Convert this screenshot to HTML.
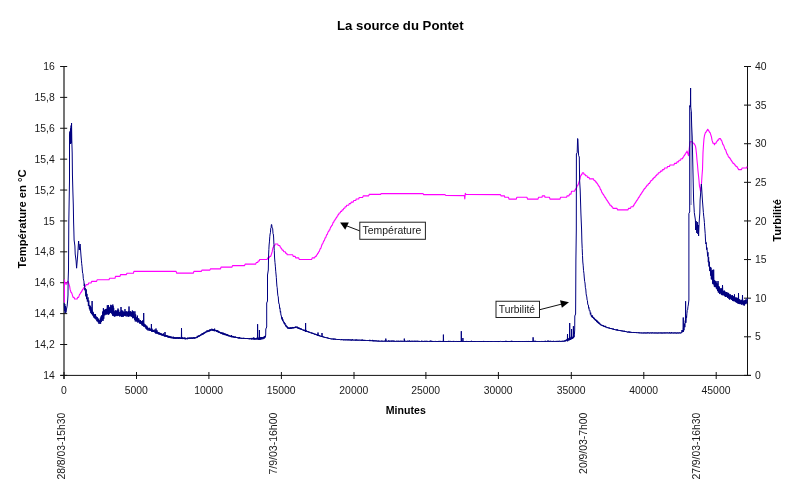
<!DOCTYPE html>
<html lang="fr"><head><meta charset="utf-8"><title>La source du Pontet</title>
<style>html,body{margin:0;padding:0;background:#fff;overflow:hidden}svg{display:block}</style></head>
<body>
<svg width="800" height="498" viewBox="0 0 800 498" font-family="Liberation Sans, sans-serif" font-size="10.4" fill="#1a1a1a">
<rect width="800" height="498" fill="#fff"/>
<text x="400.3" y="30.4" font-size="13" font-weight="bold" text-anchor="middle" fill="#000" textLength="126.5" lengthAdjust="spacingAndGlyphs">La source du Pontet</text>
<text x="54.8" y="378.9" text-anchor="end">14</text>
<text x="54.8" y="348.1" text-anchor="end">14,2</text>
<text x="54.8" y="317.2" text-anchor="end">14,4</text>
<text x="54.8" y="286.3" text-anchor="end">14,6</text>
<text x="54.8" y="255.4" text-anchor="end">14,8</text>
<text x="54.8" y="224.5" text-anchor="end">15</text>
<text x="54.8" y="193.6" text-anchor="end">15,2</text>
<text x="54.8" y="162.7" text-anchor="end">15,4</text>
<text x="54.8" y="131.8" text-anchor="end">15,6</text>
<text x="54.8" y="100.9" text-anchor="end">15,8</text>
<text x="54.8" y="70.0" text-anchor="end">16</text>
<text x="755" y="378.9">0</text>
<text x="755" y="340.3">5</text>
<text x="755" y="301.7">10</text>
<text x="755" y="263.1">15</text>
<text x="755" y="224.5">20</text>
<text x="755" y="185.9">25</text>
<text x="755" y="147.3">30</text>
<text x="755" y="108.7">35</text>
<text x="755" y="70.0">40</text>
<text x="63.8" y="394.45" text-anchor="middle">0</text>
<text x="136.3" y="394.45" text-anchor="middle">5000</text>
<text x="208.7" y="394.45" text-anchor="middle">10000</text>
<text x="281.2" y="394.45" text-anchor="middle">15000</text>
<text x="353.8" y="394.45" text-anchor="middle">20000</text>
<text x="425.7" y="394.45" text-anchor="middle">25000</text>
<text x="498.2" y="394.45" text-anchor="middle">30000</text>
<text x="571.1" y="394.45" text-anchor="middle">35000</text>
<text x="643.6" y="394.45" text-anchor="middle">40000</text>
<text x="716.0" y="394.45" text-anchor="middle">45000</text>
<text x="405.8" y="413.7" font-weight="bold" font-size="10.6" text-anchor="middle" fill="#000" textLength="40" lengthAdjust="spacingAndGlyphs">Minutes</text>
<text transform="translate(26,219) rotate(-90)" font-weight="bold" font-size="10.8" text-anchor="middle" fill="#000" textLength="99.2" lengthAdjust="spacingAndGlyphs">Température en °C</text>
<text transform="translate(781.2,220.4) rotate(-90)" font-weight="bold" font-size="10.8" text-anchor="middle" fill="#000" textLength="42.6" lengthAdjust="spacingAndGlyphs">Turbilité</text>
<text transform="translate(65.3,412.6) rotate(-90)" text-anchor="end" textLength="67" lengthAdjust="spacingAndGlyphs">28/8/03-15h30</text>
<text transform="translate(277,412.6) rotate(-90)" text-anchor="end" textLength="62" lengthAdjust="spacingAndGlyphs">7/9/03-16h00</text>
<text transform="translate(587.2,412.6) rotate(-90)" text-anchor="end" textLength="61.3" lengthAdjust="spacingAndGlyphs">20/9/03-7h00</text>
<text transform="translate(700.4,412.6) rotate(-90)" text-anchor="end" textLength="67" lengthAdjust="spacingAndGlyphs">27/9/03-16h30</text>
<path d="M64,66.5V378.9" stroke="#111" stroke-width="1.15" fill="none"/>
<path d="M60.5,375.4H751.0M747.5,66.5V375.4M60.1,375.40H67.2M60.1,344.51H67.2M60.1,313.62H67.2M60.1,282.73H67.2M60.1,251.84H67.2M60.1,220.95H67.2M60.1,190.06H67.2M60.1,159.17H67.2M60.1,128.28H67.2M60.1,97.39H67.2M60.1,66.50H67.2M744,375.40H751M744,336.79H751M744,298.17H751M744,259.56H751M744,220.95H751M744,182.34H751M744,143.72H751M744,105.11H751M744,66.50H751M64.00,372V379M136.50,372V379M208.90,372V379M281.40,372V379M354.00,372V379M425.90,372V379M498.40,372V379M571.30,372V379M643.80,372V379M716.20,372V379" stroke="#111" stroke-width="1" fill="none"/>
<path d="M64.4,302.50 L64.5,279.80 L64.6,281.40 L65.1,283.00 L65.6,283.00 L66.1,284.60 L66.6,283.00 L67.1,283.00 L67.6,281.40 L68.1,281.40 L68.6,283.00 L69.1,284.60 L69.6,286.20 L70.1,289.40 L70.6,291.00 L71.1,292.60 L71.6,292.60 L72.1,294.20 L72.6,295.80 L73.1,297.40 L74.1,297.40 L74.6,299.00 L77.1,299.00 L77.6,297.40 L78.6,297.40 L79.1,295.80 L79.6,294.20 L80.1,294.20 L80.6,292.60 L81.1,292.60 L81.6,291.00 L82.1,291.00 L82.6,289.40 L83.1,289.40 L83.6,287.80 L84.1,287.80 L84.6,286.20 L85.6,286.20 L86.1,284.60 L88.1,284.60 L88.6,283.00 L91.1,283.00 L91.6,281.40 L96.6,281.40 L97.1,279.80 L99.6,279.80 L100.0,279.80 L109.0,279.80 L109.5,278.30 L115.0,278.30 L115.5,276.40 L120.0,276.40 L120.5,274.60 L126.4,274.60 L126.9,273.30 L133.4,273.30 L133.9,271.40 L176.1,271.40 L176.6,273.10 L193.4,273.10 L193.9,271.40 L201.4,271.40 L201.9,270.10 L209.9,270.10 L210.4,268.90 L220.5,268.90 L221.0,267.10 L232.0,267.10 L232.5,265.60 L244.6,265.60 L245.1,264.10 L255.2,264.10 L255.2,264.10 L255.7,264.10 L256.2,262.55 L257.7,262.55 L258.2,261.00 L259.2,261.00 L259.7,259.45 L267.2,259.45 L267.7,257.90 L269.2,257.90 L269.7,256.35 L270.7,256.35 L271.2,254.80 L271.7,253.25 L272.2,251.70 L272.7,248.60 L273.2,247.05 L273.7,247.05 L274.2,245.50 L274.7,245.50 L275.2,243.95 L277.7,243.95 L278.2,245.50 L279.7,245.50 L280.2,247.05 L280.7,247.05 L281.2,248.60 L281.7,248.60 L282.2,250.15 L283.2,250.15 L283.7,251.70 L285.2,251.70 L285.7,253.25 L286.7,253.25 L287.2,254.80 L292.7,254.80 L293.2,256.35 L295.2,256.35 L295.7,257.90 L298.7,257.90 L299.2,259.45 L311.7,259.45 L312.2,257.90 L314.7,257.90 L315.2,256.35 L316.2,256.35 L316.7,254.80 L317.2,254.80 L317.7,253.25 L318.2,253.25 L318.7,251.70 L319.2,251.70 L319.7,250.15 L320.2,248.60 L320.7,248.60 L321.2,247.05 L321.7,245.50 L322.2,243.95 L322.7,243.95 L323.2,242.40 L323.7,240.85 L324.2,240.85 L324.7,239.30 L325.2,237.75 L325.7,237.75 L326.2,236.20 L326.7,234.65 L327.2,234.65 L327.7,233.10 L328.2,231.55 L328.7,231.55 L329.2,230.00 L329.7,230.00 L330.2,228.45 L330.7,226.90 L331.2,226.90 L331.7,225.35 L332.2,225.35 L332.7,223.80 L333.2,222.25 L333.7,222.25 L334.2,220.70 L334.7,220.70 L335.2,219.15 L335.7,219.15 L336.2,217.60 L336.7,217.60 L337.2,216.05 L337.7,216.05 L338.2,214.50 L338.7,214.50 L339.2,212.95 L340.2,212.95 L340.7,211.40 L341.7,211.40 L342.2,209.85 L343.2,209.85 L343.7,208.30 L344.7,208.30 L345.2,206.75 L346.2,206.75 L346.7,205.20 L348.7,205.20 L349.2,203.65 L350.7,203.65 L351.2,202.10 L353.2,202.10 L353.7,200.55 L355.7,200.55 L356.2,199.00 L358.7,199.00 L359.2,197.45 L362.7,197.45 L363.2,195.90 L368.7,195.90 L369.2,194.35 L380.7,194.35 L381.0,193.60 L423.0,193.60 L423.5,194.60 L445.0,194.60 L445.8,195.50 L464.4,195.60 L464.8,199.00 L465.3,193.20 L466.0,194.50 L500.5,194.60 L501.0,195.90 L504.5,195.90 L504.8,197.30 L508.5,197.30 L509.0,199.10 L516.3,199.10 L516.8,197.30 L527.0,197.30 L527.5,199.10 L538.0,199.10 L538.5,197.30 L542.0,197.30 L542.3,195.90 L544.7,195.90 L545.0,197.30 L549.5,197.30 L550.0,199.10 L560.0,199.10 L560.5,197.30 L566.6,197.30 L567.0,195.90 L569.0,195.90 L569.5,194.10 L571.0,194.10 L571.5,191.30 L574.5,191.30 L575.0,190.00 L575.0,189.75 L575.5,189.75 L576.0,188.20 L576.5,188.20 L577.0,186.65 L577.5,185.10 L578.0,185.10 L578.5,183.55 L579.0,182.00 L579.5,180.45 L580.0,178.90 L580.5,175.80 L581.0,175.80 L581.5,174.25 L582.0,174.25 L582.5,172.70 L583.5,172.70 L584.0,174.25 L585.0,174.25 L585.5,175.80 L587.0,175.80 L587.5,177.35 L589.0,177.35 L589.5,178.90 L593.5,178.90 L594.0,180.45 L595.0,180.45 L595.5,182.00 L596.5,182.00 L597.0,183.55 L597.5,183.55 L598.0,185.10 L598.5,185.10 L599.0,186.65 L599.5,186.65 L600.0,188.20 L600.5,189.75 L601.0,189.75 L601.5,191.30 L602.0,192.85 L602.5,192.85 L603.0,194.40 L603.5,194.40 L604.0,195.95 L604.5,195.95 L605.0,197.50 L605.5,197.50 L606.0,199.05 L606.5,199.05 L607.0,200.60 L607.5,200.60 L608.0,202.15 L608.5,202.15 L609.0,203.70 L609.5,203.70 L610.0,205.25 L611.0,205.25 L611.5,206.80 L612.5,206.80 L613.0,208.35 L617.0,208.35 L617.5,209.90 L628.0,209.90 L628.5,208.35 L630.5,208.35 L631.0,206.80 L633.0,206.80 L633.5,205.25 L634.0,205.25 L634.5,203.70 L635.0,203.70 L635.5,202.15 L636.0,202.15 L636.5,200.60 L637.0,200.60 L637.5,199.05 L638.0,199.05 L638.5,197.50 L639.0,197.50 L639.5,195.95 L640.0,195.95 L640.5,194.40 L641.0,194.40 L641.5,192.85 L642.0,192.85 L642.5,191.30 L643.0,191.30 L643.5,189.75 L644.0,189.75 L644.5,188.20 L645.5,188.20 L646.0,186.65 L646.5,186.65 L647.0,185.10 L648.0,185.10 L648.5,183.55 L649.5,183.55 L650.0,182.00 L650.5,182.00 L651.0,180.45 L652.0,180.45 L652.5,178.90 L653.5,178.90 L654.0,177.35 L655.0,177.35 L655.5,175.80 L656.5,175.80 L657.0,174.25 L658.0,174.25 L658.5,172.70 L660.0,172.70 L660.5,171.15 L662.0,171.15 L662.5,169.60 L664.0,169.60 L664.5,168.05 L667.0,168.05 L667.5,166.50 L669.5,166.50 L670.0,164.95 L674.0,164.95 L674.5,163.40 L676.5,163.40 L677.0,161.85 L678.5,161.85 L679.0,160.30 L680.5,160.30 L681.0,158.75 L682.5,158.75 L683.0,157.20 L683.5,157.20 L684.0,155.65 L684.5,155.65 L685.0,154.10 L685.5,154.10 L686.0,152.55 L686.5,152.55 L687.0,151.00 L687.5,152.55 L688.0,154.10 L688.5,155.65 L689.0,151.00 L689.5,146.35 L690.0,141.70 L692.5,141.70 L693.0,143.25 L694.0,143.25 L694.5,144.80 L695.0,144.80 L695.5,146.35 L696.0,149.45 L696.5,154.10 L697.0,160.30 L697.5,164.95 L698.0,171.15 L698.5,175.80 L699.0,180.45 L699.5,186.65 L700.0,188.20 L700.5,191.30 L701.0,188.20 L701.5,183.55 L702.0,175.80 L702.5,169.60 L703.0,152.55 L703.5,144.80 L704.0,138.60 L704.5,135.50 L705.0,133.95 L705.5,132.40 L706.0,132.40 L706.5,130.85 L707.0,130.85 L707.5,129.30 L708.0,129.30 L708.5,130.85 L709.0,130.85 L709.5,132.40 L710.0,132.40 L710.5,133.95 L711.0,135.50 L711.5,137.05 L712.0,140.15 L712.5,141.70 L713.0,143.25 L714.0,143.25 L714.5,144.80 L715.0,143.25 L716.0,143.25 L716.5,141.70 L717.0,141.70 L717.5,140.15 L718.5,140.15 L719.0,138.60 L720.5,138.60 L721.0,140.15 L721.5,140.15 L722.0,141.70 L722.5,143.25 L723.0,144.80 L723.5,144.80 L724.0,146.35 L724.5,147.90 L725.0,149.45 L725.5,149.45 L726.0,151.00 L726.5,152.55 L727.0,154.10 L727.5,154.10 L728.0,155.65 L728.5,157.20 L729.5,157.20 L730.0,158.75 L730.5,158.75 L731.0,160.30 L731.5,160.30 L732.0,161.85 L732.5,161.85 L733.0,163.40 L734.0,163.40 L734.5,164.95 L735.5,164.95 L736.0,166.50 L737.0,166.50 L737.5,168.05 L738.0,168.05 L738.5,169.60 L741.5,169.60 L742.0,168.05 L746.5,168.05 L747.0,166.50 L747.0,166.50" stroke="#ff00ff" stroke-width="1.1" fill="none" stroke-linejoin="round"/>
<path d="M64.20,303.00 L64.50,311.00 L64.80,304.00 L65.20,313.00 L65.60,306.00 L65.90,312.50 L66.50,309.00 L67.10,306.40 L67.70,300.00 L68.00,295.00 L68.10,281.00 L68.50,270.00 L68.80,222.00 L69.50,180.00 L69.50,135.00 L69.90,131.50 L70.10,144.00 L70.50,128.50 L70.70,144.00 L71.10,125.50 L71.20,143.00 L71.55,123.00 L71.80,140.00 L72.20,153.00 L72.45,175.00 L72.90,192.00 L73.30,205.00 L73.60,222.00 L73.90,232.00 L74.10,240.00 L74.90,246.00 L75.20,254.00 L76.10,261.00 L76.60,268.20 L77.60,256.00 L78.60,241.00 L79.30,250.00 L80.10,244.00 L81.10,257.00 L81.40,260.13 L81.70,263.76 L82.00,266.20 L82.30,270.00 L82.62,273.18 L82.95,273.73 L83.27,278.30 L83.60,280.20 L83.92,281.10 L84.23,285.97 L84.55,283.79 L84.87,290.26 L85.18,288.01 L85.50,293.00 L85.87,296.39 L86.23,289.39 L86.60,299.11 L86.97,293.87 L87.33,301.56 L87.70,300.00 L88.05,297.41 L88.40,305.92 L88.75,300.53 L89.10,306.00 L89.43,309.15 L89.77,305.18 L90.10,310.61 L90.43,306.22 L90.77,312.89 L91.10,307.22 L91.43,314.11 L91.77,309.58 L92.10,313.00 L91.95,313.30 L92.10,301.00 L92.30,313.30 L92.44,315.04 L92.78,311.68 L93.12,316.09 L93.47,312.49 L93.81,317.49 L94.15,314.03 L94.49,317.93 L94.83,314.62 L95.17,318.98 L95.52,314.09 L95.86,319.45 L96.20,318.50 L96.54,316.63 L96.88,321.21 L97.22,317.14 L97.56,321.37 L97.90,318.70 L98.24,322.35 L98.58,318.73 L98.92,323.77 L99.26,320.11 L99.60,322.50 L99.94,323.82 L100.29,318.47 L100.63,323.71 L100.97,316.56 L101.31,322.03 L101.66,315.32 L102.00,318.00 L102.35,320.51 L102.70,311.50 L103.05,320.84 L103.40,308.14 L103.75,318.80 L104.10,313.10 L104.42,309.92 L104.74,315.37 L105.07,309.53 L105.39,314.34 L105.71,309.05 L106.03,314.77 L106.36,308.82 L106.68,314.13 L107.00,312.00 L107.34,305.22 L107.68,314.26 L108.03,307.05 L108.37,314.22 L108.35,314.52 L108.50,305.00 L108.70,314.52 L108.71,306.67 L109.05,314.04 L109.39,307.65 L109.73,313.05 L110.07,307.02 L110.42,312.85 L110.76,304.82 L111.10,309.00 L111.42,313.25 L111.74,305.35 L112.07,314.20 L112.39,306.50 L112.71,315.23 L112.65,315.53 L112.80,304.50 L113.00,315.53 L113.03,305.91 L113.36,315.82 L113.68,307.83 L114.00,313.60 L114.33,316.57 L114.67,311.29 L115.00,316.47 L115.33,310.34 L115.67,315.93 L116.00,310.70 L116.33,315.60 L116.67,310.84 L117.00,316.14 L117.33,310.17 L117.67,315.82 L118.00,308.54 L118.33,315.50 L118.67,309.77 L119.00,315.72 L119.33,312.05 L119.67,316.47 L120.00,314.00 L120.33,311.49 L120.66,316.01 L120.99,311.24 L120.85,311.54 L121.00,307.00 L121.20,311.54 L121.33,316.86 L121.66,310.21 L121.99,316.65 L122.32,310.73 L122.65,316.58 L122.98,310.82 L123.32,316.71 L123.65,312.10 L123.98,315.94 L124.31,311.96 L124.64,315.62 L124.97,309.10 L125.31,316.05 L125.64,311.51 L125.97,316.25 L126.30,314.00 L126.64,311.33 L126.97,316.52 L127.31,311.91 L127.64,316.02 L127.98,311.59 L128.31,316.73 L128.65,310.93 L128.98,316.02 L128.85,316.32 L129.00,306.50 L129.20,316.32 L129.32,311.83 L129.65,315.89 L129.99,311.44 L130.32,316.02 L130.66,311.24 L130.99,316.47 L131.33,312.11 L131.66,316.70 L132.00,314.00 L132.37,310.46 L132.73,318.26 L133.10,311.22 L133.47,318.04 L133.83,311.71 L134.20,316.50 L134.56,319.73 L134.92,311.33 L135.28,321.43 L135.64,314.41 L136.00,318.70 L136.36,321.47 L136.71,317.25 L137.07,321.32 L137.42,315.61 L137.78,322.56 L138.13,318.23 L138.49,322.16 L138.84,318.65 L139.20,321.30 L139.53,323.42 L139.86,320.13 L140.19,323.41 L140.51,320.07 L140.84,324.03 L141.17,321.02 L141.50,324.47 L141.83,321.28 L142.16,325.49 L142.49,320.49 L142.81,325.74 L143.14,323.02 L143.47,326.12 L143.55,326.42 L143.70,313.00 L143.90,326.42 L143.80,325.00 L144.15,323.72 L144.49,326.68 L144.84,324.29 L145.18,327.29 L145.53,324.78 L145.88,328.60 L146.22,325.59 L146.57,329.29 L146.92,325.85 L147.26,329.72 L147.61,327.13 L147.95,330.46 L148.30,329.20 L148.63,328.27 L148.97,330.54 L149.30,327.79 L149.63,330.55 L149.97,328.37 L150.30,330.75 L150.63,329.08 L150.97,331.00 L151.30,329.03 L151.25,329.33 L151.40,324.00 L151.60,329.33 L151.63,331.69 L151.97,328.67 L152.30,331.92 L152.63,329.84 L152.97,331.94 L153.30,330.28 L153.63,331.98 L153.97,329.89 L154.30,331.50 L154.63,332.32 L154.97,329.46 L155.30,332.83 L155.64,331.21 L155.97,333.24 L155.85,333.54 L156.00,328.50 L156.20,333.54 L156.31,330.99 L156.64,333.11 L156.98,330.28 L157.31,333.58 L157.64,331.80 L157.98,334.08 L158.31,332.04 L158.65,334.35 L158.98,332.17 L159.32,334.56 L159.65,332.92 L159.99,334.71 L160.32,332.96 L160.66,334.85 L160.99,333.15 L161.32,335.39 L161.66,333.71 L161.99,335.33 L162.33,333.98 L162.66,335.70 L163.00,333.87 L163.33,335.84 L163.67,333.40 L164.00,335.50 L164.34,336.54 L164.68,335.02 L164.85,335.32 L165.00,332.00 L165.20,335.32 L165.02,336.41 L165.36,335.03 L165.70,336.73 L166.04,335.05 L166.38,336.74 L166.72,335.15 L167.06,336.94 L167.40,335.50 L167.74,337.38 L168.08,335.96 L168.42,337.58 L168.76,335.79 L169.10,337.77 L169.44,336.23 L169.78,337.80 L170.12,336.46 L170.46,338.11 L170.80,336.39 L171.14,338.05 L171.48,336.81 L171.82,338.35 L172.16,336.92 L172.50,337.80 L172.85,338.48 L173.19,336.65 L173.54,338.51 L173.88,337.17 L174.23,338.71 L174.58,337.25 L174.92,338.63 L175.27,337.25 L175.62,338.77 L175.96,337.26 L176.31,338.75 L176.65,337.29 L177.00,338.69 L177.35,337.26 L177.69,338.64 L178.04,337.21 L178.38,338.85 L178.73,337.32 L179.08,338.69 L179.42,337.21 L179.77,338.73 L180.12,337.48 L180.46,338.93 L180.81,337.62 L181.15,338.91 L181.50,338.20 L181.35,338.50 L181.50,328.00 L181.70,338.50 L181.83,337.63 L182.17,338.88 L182.50,337.45 L182.83,339.08 L183.17,337.72 L183.50,338.96 L183.83,337.66 L184.17,338.88 L184.50,337.67 L184.83,339.21 L185.17,337.60 L185.50,339.28 L185.83,338.02 L186.17,339.09 L186.50,338.60 L186.83,337.94 L187.17,339.30 L187.50,337.78 L187.84,339.04 L188.17,337.61 L188.51,338.90 L188.84,337.82 L189.18,338.86 L189.51,337.65 L189.84,338.92 L190.18,337.46 L190.51,338.70 L190.85,337.69 L191.18,338.82 L191.52,337.57 L191.85,338.66 L192.19,337.59 L192.52,338.71 L192.86,337.47 L193.19,338.60 L193.52,337.38 L193.86,338.53 L194.19,337.16 L194.53,338.57 L194.86,337.43 L195.20,338.37 L195.53,337.39 L195.87,338.22 L196.20,337.80 L196.54,337.01 L196.88,338.06 L197.22,335.87 L197.56,337.48 L197.90,335.94 L198.24,337.06 L198.58,335.51 L198.92,336.69 L199.26,335.40 L199.60,336.42 L199.94,334.95 L200.28,335.92 L200.62,334.46 L200.96,335.60 L201.30,334.80 L201.63,333.75 L201.97,335.05 L202.30,333.26 L202.63,334.62 L202.97,333.00 L203.30,334.41 L203.63,332.65 L203.97,334.01 L204.30,332.44 L204.63,333.32 L204.97,331.86 L205.30,333.07 L205.63,331.61 L205.97,332.63 L206.30,331.80 L206.65,330.70 L206.99,332.22 L207.34,330.43 L207.69,331.89 L208.03,330.52 L208.38,331.61 L208.73,330.29 L209.07,331.61 L209.42,329.76 L209.77,331.24 L210.11,329.29 L210.46,330.95 L210.81,329.35 L211.15,330.67 L211.50,329.80 L211.85,328.69 L212.19,330.57 L212.54,329.05 L212.88,330.89 L213.23,329.19 L213.58,331.02 L213.92,329.61 L214.27,331.15 L214.62,328.63 L214.96,331.22 L215.31,329.89 L215.65,331.08 L216.00,330.60 L216.33,329.97 L216.67,331.88 L217.00,330.23 L217.33,331.93 L217.67,330.34 L218.00,332.34 L218.33,330.86 L218.67,332.65 L219.00,331.41 L219.33,332.98 L219.67,331.71 L220.00,332.60 L220.34,333.33 L220.69,332.10 L221.03,333.81 L221.38,332.36 L221.72,333.89 L222.07,332.68 L222.41,334.27 L222.76,332.58 L223.10,334.53 L223.45,332.85 L223.79,334.64 L224.14,333.22 L224.48,335.05 L224.83,333.44 L225.17,335.12 L225.52,333.78 L225.86,335.31 L226.21,333.94 L226.55,335.49 L226.90,334.10 L227.24,335.84 L227.59,334.42 L227.93,336.10 L228.28,334.80 L228.62,336.23 L228.97,335.28 L229.31,336.54 L229.66,335.41 L230.00,336.20 L230.34,336.94 L230.68,335.80 L231.02,337.10 L231.36,335.01 L231.70,337.22 L232.04,336.10 L232.38,337.27 L232.72,335.90 L233.06,337.22 L233.40,336.15 L233.74,337.59 L234.08,336.54 L234.42,337.66 L234.76,336.64 L235.10,337.78 L235.44,336.57 L235.78,337.82 L236.12,336.93 L236.46,337.93 L236.80,337.10 L237.14,337.96 L237.48,337.24 L237.82,338.30 L238.16,337.32 L238.50,338.42 L238.84,337.36 L239.18,338.44 L239.52,336.99 L239.86,338.70 L240.20,338.20 L240.54,337.70 L240.89,338.75 L241.23,337.88 L241.58,338.73 L241.92,337.87 L242.27,338.80 L242.61,337.94 L242.96,338.69 L243.30,337.86 L243.65,338.85 L243.99,337.83 L244.34,338.78 L244.68,338.01 L245.03,338.89 L245.37,338.03 L245.72,339.02 L246.06,338.10 L246.41,338.97 L246.75,338.19 L247.10,339.02 L247.44,338.01 L247.79,339.02 L248.13,338.25 L248.48,339.14 L248.82,338.36 L249.17,339.14 L249.51,338.17 L249.86,339.31 L250.20,338.80 L250.53,338.22 L250.87,339.20 L251.20,337.93 L251.53,339.40 L251.87,338.32 L252.20,339.33 L252.53,338.04 L252.87,339.25 L253.20,337.71 L253.53,339.33 L253.87,337.47 L254.20,339.61 L254.53,338.02 L254.87,339.60 L255.20,338.80 L255.53,338.13 L255.87,339.66 L256.20,338.01 L256.53,339.29 L256.87,337.78 L257.20,339.34 L257.53,337.82 L257.45,338.12 L257.60,324.20 L257.80,338.12 L257.87,339.51 L258.20,337.85 L258.53,339.71 L258.87,337.68 L259.20,339.30 L259.25,339.60 L259.40,330.00 L259.60,339.60 L259.53,337.52 L259.87,339.50 L260.20,337.28 L260.53,339.55 L260.87,337.14 L261.20,339.34 L261.53,337.04 L261.87,339.29 L262.20,338.40 L262.55,337.22 L262.90,339.23 L263.25,337.06 L263.60,338.52 L263.95,336.61 L264.30,338.49 L264.65,335.95 L265.00,337.20 L265.35,337.39 L265.70,335.00 L265.80,329.00 L266.70,327.00 L266.70,303.00 L267.50,301.00 L267.50,275.00 L268.30,270.00 L268.60,255.00 L268.85,249.62 L269.10,245.00 L269.43,241.92 L269.77,236.77 L270.10,234.00 L270.43,232.71 L270.75,228.13 L271.07,227.79 L271.40,224.50 L271.73,224.59 L272.07,228.08 L272.40,228.00 L272.70,228.77 L273.00,233.57 L273.30,233.92 L273.60,237.00 L273.93,244.53 L274.27,250.69 L274.60,258.00 L274.98,262.40 L275.35,266.15 L275.73,271.22 L276.10,275.00 L276.35,277.71 L276.60,282.00 L276.90,286.14 L277.20,287.62 L277.50,292.00 L277.88,295.80 L278.25,296.76 L278.62,301.99 L279.00,304.00 L279.32,304.17 L279.65,308.45 L279.98,307.89 L280.30,312.23 L280.62,311.29 L280.95,315.37 L281.28,315.32 L281.60,318.00 L281.94,319.44 L282.27,317.37 L282.61,320.84 L282.95,319.46 L283.28,321.82 L283.62,321.09 L283.95,323.37 L284.29,322.15 L284.63,324.37 L284.96,323.00 L285.30,325.00 L285.64,326.26 L285.99,324.84 L286.33,327.04 L286.68,325.91 L287.02,327.62 L287.37,326.58 L287.71,328.53 L288.06,327.08 L288.40,328.60 L288.73,329.00 L289.07,327.58 L289.40,328.97 L289.73,327.62 L290.07,328.83 L290.40,327.45 L290.73,328.86 L291.07,327.38 L291.40,328.66 L291.73,327.54 L292.07,328.58 L292.40,326.98 L292.73,328.24 L293.07,327.27 L293.40,328.37 L293.73,327.03 L294.07,328.10 L294.40,326.97 L294.73,328.13 L295.07,326.90 L295.40,327.98 L295.73,326.48 L296.07,327.79 L296.40,327.20 L296.73,326.61 L297.07,328.12 L297.40,326.75 L297.73,328.36 L298.07,327.39 L298.40,328.80 L298.73,327.52 L299.07,328.86 L299.40,327.79 L299.73,329.18 L300.07,328.15 L300.40,329.35 L300.73,328.28 L301.07,329.70 L301.40,328.64 L301.73,329.93 L302.07,329.13 L302.40,329.80 L302.73,330.30 L303.07,329.47 L303.40,330.66 L303.73,329.81 L304.07,330.99 L304.40,329.99 L304.73,331.13 L305.07,329.63 L305.40,331.38 L305.45,331.68 L305.60,323.00 L305.80,331.68 L305.73,330.30 L306.07,331.54 L306.40,330.53 L306.73,331.70 L307.07,330.95 L307.40,332.04 L307.73,331.02 L308.07,332.17 L308.40,331.39 L308.73,332.47 L309.07,331.68 L309.40,332.70 L309.73,331.89 L310.07,332.89 L310.40,332.60 L310.74,332.26 L311.07,333.37 L311.41,332.46 L311.75,333.52 L312.08,332.70 L312.42,333.70 L312.76,332.84 L313.09,333.88 L313.43,333.10 L313.77,334.17 L314.10,333.50 L314.44,334.58 L314.78,333.72 L315.11,334.65 L315.45,333.82 L315.79,334.92 L316.12,334.09 L316.46,335.11 L316.80,334.40 L317.13,335.50 L317.47,334.62 L317.81,335.57 L317.85,335.87 L318.00,332.50 L318.20,335.87 L318.14,334.89 L318.48,335.82 L318.82,334.97 L319.15,336.18 L319.49,335.07 L319.83,336.32 L320.16,335.53 L320.50,336.20 L320.84,336.76 L321.19,335.99 L321.53,336.94 L321.88,336.04 L321.85,336.34 L322.00,333.00 L322.20,336.34 L322.22,336.98 L322.57,336.16 L322.91,337.27 L323.26,336.47 L323.60,337.34 L323.95,336.69 L324.29,337.68 L324.64,336.93 L324.98,337.76 L325.33,337.14 L325.67,337.87 L326.02,337.23 L326.36,338.15 L326.71,337.49 L327.05,338.17 L327.40,337.46 L327.74,338.48 L328.09,337.65 L328.43,338.63 L328.78,337.96 L329.12,338.76 L329.47,338.13 L329.81,338.98 L330.16,338.18 L330.50,338.80 L330.84,339.24 L331.17,338.54 L331.51,339.25 L331.85,338.62 L332.18,339.39 L332.52,338.68 L332.86,339.33 L333.19,338.66 L333.53,339.52 L333.87,338.51 L334.20,339.53 L334.54,338.78 L334.88,339.60 L335.21,338.75 L335.55,339.61 L335.89,338.85 L336.22,339.64 L336.56,339.07 L336.90,339.70 L337.23,339.16 L337.57,339.90 L337.91,339.07 L338.24,339.99 L338.58,339.28 L338.92,339.95 L339.25,339.25 L339.59,339.97 L339.93,339.21 L340.26,340.11 L340.60,339.80 L340.94,339.31 L341.28,340.13 L341.62,339.11 L341.96,340.08 L342.30,339.40 L342.64,340.10 L342.98,339.49 L343.32,340.26 L343.66,339.45 L344.00,340.29 L344.34,339.53 L344.68,340.17 L345.02,339.37 L345.36,340.25 L345.71,339.50 L346.05,340.30 L346.39,339.49 L346.73,340.20 L347.07,339.53 L347.41,340.29 L347.75,339.41 L348.09,340.27 L348.43,339.44 L348.77,340.34 L349.11,339.52 L349.45,340.28 L349.79,339.47 L350.13,340.33 L350.47,339.62 L350.81,340.47 L351.15,339.58 L351.49,340.49 L351.83,339.50 L352.17,340.40 L352.51,339.27 L352.85,340.36 L353.19,339.73 L353.53,340.37 L353.87,339.73 L354.21,340.43 L354.55,339.74 L354.89,340.45 L355.24,339.76 L355.58,340.55 L355.92,339.42 L356.26,340.53 L356.60,339.62 L356.94,340.56 L357.28,339.67 L357.62,340.47 L357.96,339.82 L358.30,340.56 L358.64,339.78 L358.98,340.52 L359.32,339.67 L359.66,340.48 L360.00,340.20 L360.34,339.80 L360.68,340.66 L361.02,339.78 L361.36,340.76 L361.69,339.75 L362.03,340.63 L362.37,339.59 L362.71,340.77 L363.05,339.84 L363.39,340.84 L363.73,339.93 L364.07,340.81 L364.41,339.93 L364.75,340.92 L365.08,339.91 L365.42,340.83 L365.76,340.17 L366.10,340.81 L366.44,340.18 L366.78,340.81 L367.12,340.21 L367.46,340.96 L367.80,340.17 L368.14,340.92 L368.47,340.26 L368.81,340.92 L369.15,340.18 L369.49,341.11 L369.83,339.80 L370.17,341.06 L370.51,340.20 L370.85,341.12 L371.19,340.30 L371.53,341.09 L371.86,340.48 L372.20,341.13 L372.54,339.90 L372.88,341.26 L373.22,340.14 L373.56,341.27 L373.90,340.43 L374.24,341.31 L374.58,340.47 L374.92,341.28 L375.25,340.44 L375.59,341.28 L375.93,340.46 L376.27,341.35 L376.61,340.57 L376.95,341.36 L377.29,340.76 L377.63,341.45 L377.97,340.64 L378.31,341.53 L378.64,340.66 L378.98,341.55 L379.32,340.72 L379.66,341.60 L380.00,341.20 L380.34,340.86 L380.68,341.60 L381.02,340.74 L381.36,341.51 L381.70,340.70 L382.04,341.48 L382.38,340.81 L382.72,341.62 L383.06,340.80 L383.40,341.50 L383.74,340.92 L384.08,341.47 L384.42,340.76 L384.76,341.55 L385.10,340.72 L385.44,341.50 L385.78,340.79 L385.65,341.09 L385.80,338.60 L386.00,341.09 L386.12,341.49 L386.46,340.72 L386.80,341.59 L387.14,340.85 L387.48,341.48 L387.82,340.87 L388.16,341.59 L388.50,340.53 L388.84,341.54 L389.18,340.71 L389.52,341.64 L389.86,340.72 L390.20,341.52 L390.54,340.76 L390.88,341.52 L391.22,340.89 L391.56,341.59 L391.90,340.41 L392.24,341.49 L392.58,340.76 L392.92,341.63 L393.26,340.82 L393.60,341.54 L393.94,340.47 L394.28,341.68 L394.62,340.95 L394.96,341.62 L395.30,340.94 L395.64,341.58 L395.98,340.95 L396.32,341.61 L396.66,340.77 L397.00,341.58 L397.34,340.84 L397.68,341.65 L398.02,340.90 L398.36,341.68 L398.70,340.76 L399.04,341.70 L399.38,340.94 L399.72,341.69 L400.06,340.85 L400.40,341.52 L400.74,340.79 L401.08,341.63 L401.42,340.85 L401.76,341.68 L402.10,340.86 L402.44,341.55 L402.78,340.84 L403.12,341.67 L403.46,340.99 L403.80,341.56 L404.14,340.90 L404.15,341.20 L404.30,338.60 L404.50,341.20 L404.48,341.53 L404.82,340.58 L405.16,341.60 L405.50,340.93 L405.84,341.62 L406.18,340.92 L406.52,341.65 L406.86,340.95 L407.20,341.58 L407.54,340.77 L407.88,341.72 L408.22,340.78 L408.56,341.56 L408.90,340.84 L409.24,341.60 L409.58,340.54 L409.92,341.65 L410.25,340.92 L410.59,341.73 L410.93,340.93 L411.27,341.69 L411.61,340.82 L411.95,341.57 L412.29,340.80 L412.63,341.66 L412.97,340.92 L413.31,341.64 L413.65,340.85 L413.99,341.57 L414.33,340.91 L414.67,341.66 L415.01,340.67 L415.35,341.70 L415.69,340.94 L416.03,341.64 L416.37,340.94 L416.71,341.62 L417.05,340.65 L417.39,341.61 L417.73,340.94 L418.07,341.66 L418.41,340.91 L418.75,341.73 L419.09,340.88 L419.43,341.69 L419.77,341.00 L420.11,341.59 L420.45,341.03 L420.79,341.70 L421.13,341.04 L421.47,341.67 L421.81,340.64 L422.15,341.75 L422.49,341.04 L422.83,341.68 L423.17,340.94 L423.51,341.77 L423.85,341.05 L424.19,341.68 L424.53,340.87 L424.87,341.75 L425.21,340.86 L425.55,341.62 L425.89,340.94 L426.23,341.75 L426.57,340.85 L426.91,341.60 L427.25,340.90 L427.59,341.73 L427.93,341.06 L428.27,341.73 L428.61,341.05 L428.95,341.64 L429.29,340.87 L429.63,341.74 L429.97,340.96 L430.31,341.66 L430.65,340.60 L430.99,341.74 L431.33,340.81 L431.67,341.80 L432.01,341.02 L432.35,341.75 L432.69,340.93 L433.03,341.82 L433.37,341.04 L433.71,341.69 L434.05,341.07 L434.39,341.64 L434.73,340.99 L435.07,341.68 L435.41,340.93 L435.75,341.77 L436.09,341.07 L436.43,341.80 L436.77,341.07 L437.11,341.82 L437.45,341.03 L437.79,341.82 L438.13,341.08 L438.47,341.83 L438.81,340.92 L439.15,341.72 L439.49,340.98 L439.83,341.72 L440.17,340.88 L440.51,341.71 L440.85,341.02 L441.19,341.84 L441.53,341.10 L441.87,341.82 L442.21,340.93 L442.55,341.79 L442.89,341.10 L443.23,341.71 L443.25,342.01 L443.40,334.60 L443.60,342.01 L443.57,340.98 L443.91,341.76 L444.25,341.08 L444.59,341.71 L444.93,340.99 L445.27,341.78 L445.61,341.01 L445.95,341.86 L446.29,341.01 L446.63,341.79 L446.97,341.01 L447.31,341.72 L447.65,341.01 L447.99,341.80 L448.33,340.93 L448.67,341.83 L449.01,340.86 L449.35,341.71 L449.69,341.01 L450.03,341.70 L450.37,340.92 L450.71,341.69 L451.05,341.03 L451.39,341.77 L451.73,341.12 L452.07,341.70 L452.41,340.98 L452.75,341.69 L453.09,341.02 L453.43,341.82 L453.77,340.90 L454.11,341.78 L454.45,341.15 L454.79,341.80 L455.13,341.09 L455.47,341.74 L455.81,341.05 L456.15,341.72 L456.49,340.98 L456.83,341.74 L457.17,341.07 L457.51,341.89 L457.85,341.02 L458.19,341.86 L458.53,340.99 L458.87,341.87 L459.21,341.10 L459.55,341.85 L459.89,341.06 L460.23,341.83 L460.57,341.04 L460.91,341.73 L461.25,341.13 L461.15,341.43 L461.30,331.20 L461.50,341.43 L461.59,341.88 L461.93,341.13 L462.27,341.91 L462.61,341.17 L462.75,341.47 L462.90,338.00 L463.10,341.47 L462.95,341.80 L463.29,341.16 L463.63,341.79 L463.97,341.19 L464.31,341.81 L464.65,341.12 L464.99,341.92 L465.33,341.09 L465.67,341.85 L466.01,341.11 L466.35,341.79 L466.69,340.95 L467.03,341.77 L467.37,341.18 L467.71,341.87 L468.05,341.07 L468.39,341.86 L468.73,341.04 L469.07,341.80 L469.41,341.07 L469.75,341.80 L470.08,341.11 L470.42,341.80 L470.76,341.08 L471.10,341.94 L471.44,340.79 L471.78,341.80 L472.12,341.07 L472.46,341.78 L472.80,341.03 L473.14,341.77 L473.48,341.01 L473.82,341.92 L474.16,341.07 L474.50,341.93 L474.84,341.05 L475.18,341.84 L475.52,341.01 L475.86,341.84 L476.20,341.20 L476.54,341.88 L476.88,341.19 L477.22,341.89 L477.56,341.15 L477.90,341.87 L478.24,341.17 L478.58,341.88 L478.92,341.14 L479.26,341.97 L479.60,341.21 L479.94,341.89 L480.28,341.03 L480.62,341.80 L480.96,341.09 L481.30,341.87 L481.64,341.02 L481.98,341.96 L482.32,341.25 L482.66,341.96 L483.00,341.19 L483.34,341.91 L483.68,340.93 L484.02,341.92 L484.36,341.17 L484.70,341.83 L485.04,341.06 L485.38,341.92 L485.72,341.24 L486.06,341.91 L486.40,341.20 L486.74,341.88 L487.08,341.09 L487.42,341.86 L487.76,341.04 L488.10,341.93 L488.44,341.13 L488.78,341.95 L489.12,341.10 L489.46,341.87 L489.80,341.25 L490.14,342.01 L490.48,341.22 L490.82,341.94 L491.16,341.10 L491.50,341.97 L491.84,341.13 L492.18,341.82 L492.52,341.17 L492.86,341.88 L493.20,341.23 L493.54,341.93 L493.88,341.29 L494.22,341.96 L494.56,341.24 L494.90,341.86 L495.24,341.20 L495.58,341.91 L495.92,341.08 L496.26,341.88 L496.60,341.18 L496.94,341.86 L497.28,341.15 L497.62,341.97 L497.96,341.25 L498.30,342.02 L498.64,341.17 L498.98,341.92 L499.32,341.07 L499.66,341.95 L500.00,341.60 L500.34,341.29 L500.68,341.85 L501.02,341.28 L501.36,341.87 L501.70,341.23 L502.04,341.87 L502.38,341.27 L502.72,342.02 L503.06,341.22 L503.40,341.98 L503.74,341.11 L504.09,342.00 L504.43,341.17 L504.77,341.94 L505.11,341.18 L505.45,341.87 L505.79,340.82 L506.13,341.89 L506.47,340.95 L506.81,341.97 L507.15,341.09 L507.49,341.95 L507.83,341.07 L508.17,341.88 L508.51,341.11 L508.85,341.92 L509.19,341.12 L509.53,341.93 L509.87,341.15 L510.21,341.85 L510.55,341.09 L510.89,341.89 L511.23,340.85 L511.57,341.95 L511.91,340.84 L512.26,341.95 L512.60,341.09 L512.94,341.92 L513.28,341.13 L513.62,341.85 L513.96,341.15 L514.30,341.84 L514.64,341.02 L514.98,341.87 L515.32,341.15 L515.66,341.82 L516.00,341.02 L516.34,341.86 L516.68,341.10 L517.02,341.84 L517.36,341.17 L517.70,341.85 L518.04,341.03 L518.38,341.93 L518.72,341.06 L519.06,341.79 L519.40,341.01 L519.74,341.86 L520.09,341.04 L520.43,341.81 L520.77,341.08 L521.11,341.79 L521.45,341.18 L521.79,341.92 L522.13,341.20 L522.47,341.87 L522.81,341.04 L523.15,341.85 L523.49,341.06 L523.83,341.75 L524.17,341.16 L524.51,341.91 L524.85,341.09 L525.19,341.92 L525.53,341.17 L525.87,341.78 L526.21,340.98 L526.55,341.74 L526.89,341.17 L527.23,341.90 L527.57,341.09 L527.91,341.88 L528.26,340.96 L528.60,341.76 L528.94,341.06 L529.28,341.89 L529.62,341.08 L529.96,341.86 L530.30,341.08 L530.64,341.76 L530.98,341.06 L531.32,341.85 L531.66,341.01 L532.00,341.84 L532.34,341.06 L532.68,341.74 L533.02,340.95 L532.95,341.25 L533.10,337.30 L533.30,341.25 L533.36,341.71 L533.70,341.04 L534.04,341.84 L534.38,340.96 L534.72,341.78 L535.06,340.68 L535.40,341.81 L535.74,341.03 L536.09,341.72 L536.43,340.98 L536.77,341.74 L537.11,341.05 L537.45,341.71 L537.79,341.12 L538.13,341.81 L538.47,341.12 L538.81,341.76 L539.15,341.04 L539.49,341.77 L539.83,341.11 L540.17,341.74 L540.51,341.09 L540.85,341.71 L541.19,341.11 L541.53,341.71 L541.87,340.96 L542.21,341.74 L542.55,341.10 L542.89,341.82 L543.23,341.10 L543.57,341.64 L543.91,340.97 L544.26,341.82 L544.60,341.01 L544.94,341.70 L545.28,340.77 L545.62,341.80 L545.96,341.04 L546.30,341.70 L546.64,341.05 L546.98,341.68 L547.32,340.86 L547.66,341.68 L548.00,340.55 L548.34,341.73 L548.68,340.88 L549.02,341.65 L549.36,340.90 L549.70,341.80 L550.04,341.04 L550.38,341.62 L550.72,340.75 L551.06,341.73 L551.40,341.05 L551.74,341.70 L552.09,341.05 L552.43,341.79 L552.77,340.98 L553.11,341.67 L553.45,340.83 L553.79,341.78 L554.13,340.97 L554.47,341.59 L554.81,341.04 L555.15,341.70 L555.49,340.95 L555.83,341.77 L556.17,341.04 L556.51,341.70 L556.85,340.88 L557.19,341.71 L557.53,340.91 L557.87,341.73 L558.21,341.01 L558.55,341.72 L558.89,340.83 L559.23,341.58 L559.57,340.84 L559.91,341.65 L560.26,340.94 L560.60,341.68 L560.94,340.99 L561.28,341.75 L561.62,340.91 L561.96,341.61 L562.30,340.80 L562.64,341.56 L562.98,340.85 L563.32,341.74 L563.66,340.79 L564.00,341.30 L564.34,341.46 L564.67,340.42 L565.01,341.52 L565.35,340.10 L565.69,341.19 L566.03,339.80 L566.36,340.90 L566.70,340.20 L567.03,338.97 L567.36,340.89 L567.35,341.19 L567.50,334.00 L567.70,341.19 L567.69,338.70 L568.01,340.73 L568.34,338.53 L568.67,340.12 L569.00,338.38 L569.33,340.29 L569.66,337.89 L569.55,338.19 L569.70,323.00 L569.90,338.19 L569.99,339.76 L570.31,338.10 L570.64,340.00 L570.97,336.87 L571.30,338.60 L571.45,338.90 L571.60,329.00 L571.80,338.90 L571.62,339.21 L571.94,337.36 L572.27,338.93 L572.59,336.90 L572.91,338.40 L573.23,336.63 L573.25,336.93 L573.40,326.20 L573.60,336.93 L573.56,338.02 L573.88,336.59 L574.20,337.00 L574.45,334.14 L574.70,330.00 L574.80,316.00 L575.60,314.00 L575.70,300.00 L575.90,260.00 L576.30,230.00 L576.40,154.00 L577.20,152.50 L577.60,138.50 L577.90,139.50 L578.30,150.00 L578.60,155.50 L579.30,157.00 L579.60,180.00 L580.20,190.00 L580.90,213.00 L581.60,230.00 L581.90,242.00 L582.20,248.47 L582.50,255.63 L582.80,262.00 L583.17,265.17 L583.55,270.69 L583.92,273.19 L584.30,278.00 L584.67,281.47 L585.03,283.03 L585.40,287.76 L585.77,288.96 L586.13,293.82 L586.50,296.00 L586.81,296.92 L587.12,300.24 L587.43,300.50 L587.74,304.27 L588.05,305.00 L588.36,305.03 L588.67,308.29 L588.98,307.58 L589.29,310.73 L589.60,311.00 L589.98,310.58 L590.35,314.38 L590.73,312.69 L591.10,315.60 L591.45,316.64 L591.80,315.13 L592.15,317.33 L592.50,315.64 L592.85,317.98 L593.20,316.94 L593.55,318.60 L593.90,317.58 L594.25,319.24 L594.60,318.18 L594.95,320.14 L595.30,319.07 L595.65,320.87 L596.00,320.50 L596.34,319.81 L596.68,321.96 L597.02,320.42 L597.36,322.50 L597.70,321.09 L598.04,323.07 L598.38,321.86 L598.72,323.63 L599.06,322.45 L599.40,324.01 L599.74,322.98 L600.08,324.88 L600.42,323.93 L600.76,325.23 L601.10,325.10 L601.45,324.68 L601.79,325.81 L602.14,324.92 L602.49,326.00 L602.84,325.15 L603.18,326.35 L603.53,325.44 L603.88,326.75 L604.22,325.81 L604.57,326.99 L604.92,326.23 L605.26,327.20 L605.61,325.87 L605.96,327.41 L606.31,326.83 L606.65,327.68 L607.00,327.50 L607.34,327.14 L607.68,328.09 L608.02,327.36 L608.37,328.25 L608.71,327.58 L609.05,328.36 L609.39,327.63 L609.73,328.72 L610.08,327.97 L610.42,328.75 L610.76,328.02 L611.10,328.99 L611.44,328.24 L611.78,329.13 L612.12,328.45 L612.47,329.28 L612.81,328.56 L613.15,329.64 L613.49,328.65 L613.83,329.78 L614.18,329.07 L614.52,330.00 L614.86,329.14 L615.20,329.70 L615.54,330.15 L615.89,329.36 L616.23,330.36 L616.57,329.49 L616.91,330.40 L617.26,329.21 L617.60,330.57 L617.94,329.89 L618.29,330.57 L618.63,329.91 L618.97,330.74 L619.31,330.14 L619.66,330.83 L620.00,330.22 L620.34,330.97 L620.69,330.21 L621.03,331.21 L621.37,330.55 L621.71,331.25 L622.06,330.29 L622.40,331.37 L622.74,330.81 L623.09,331.49 L623.43,330.86 L623.77,331.64 L624.11,330.58 L624.46,331.85 L624.80,331.04 L625.14,331.86 L625.49,331.14 L625.83,332.01 L626.17,331.38 L626.51,332.19 L626.86,331.45 L627.20,332.00 L627.54,332.46 L627.87,331.67 L628.21,332.36 L628.54,331.57 L628.88,332.56 L629.22,331.70 L629.55,332.54 L629.89,331.53 L630.22,332.67 L630.56,331.91 L630.89,332.60 L631.23,331.91 L631.57,332.73 L631.90,332.02 L632.24,332.72 L632.57,332.07 L632.91,332.73 L633.25,331.98 L633.58,332.75 L633.92,332.02 L634.25,332.92 L634.59,332.07 L634.93,333.02 L635.26,332.27 L635.60,333.01 L635.93,332.35 L636.27,333.07 L636.61,332.27 L636.94,333.09 L637.28,332.44 L637.61,333.09 L637.95,332.53 L638.28,333.13 L638.62,332.37 L638.96,333.21 L639.29,332.43 L639.63,333.28 L639.96,332.52 L640.30,333.00 L640.64,333.27 L640.98,332.48 L641.32,333.39 L641.66,332.65 L641.99,333.26 L642.33,332.71 L642.67,333.33 L643.01,332.66 L643.35,333.35 L643.69,332.56 L644.03,333.33 L644.37,332.62 L644.70,333.28 L645.04,332.51 L645.38,333.36 L645.72,332.65 L646.06,333.32 L646.40,332.71 L646.74,333.38 L647.08,332.49 L647.42,333.26 L647.75,332.39 L648.09,333.26 L648.43,332.61 L648.77,333.26 L649.11,332.57 L649.45,333.41 L649.79,332.70 L650.13,333.25 L650.47,332.62 L650.80,333.28 L651.14,332.54 L651.48,333.35 L651.82,332.52 L652.16,333.31 L652.50,332.54 L652.84,333.26 L653.18,332.62 L653.51,333.30 L653.85,332.65 L654.19,333.32 L654.53,332.64 L654.87,333.41 L655.21,332.55 L655.55,333.27 L655.89,332.61 L656.23,333.44 L656.56,332.67 L656.90,333.29 L657.24,332.62 L657.58,333.40 L657.92,332.70 L658.26,333.43 L658.60,332.58 L658.94,333.29 L659.28,332.61 L659.61,333.27 L659.95,332.65 L660.29,333.35 L660.63,332.59 L660.97,333.33 L661.31,332.51 L661.65,333.42 L661.99,332.66 L662.32,333.40 L662.66,332.64 L663.00,333.41 L663.34,332.55 L663.68,333.26 L664.02,332.70 L664.36,333.36 L664.70,332.45 L665.04,333.29 L665.37,332.57 L665.71,333.37 L666.05,332.68 L666.39,333.27 L666.73,332.50 L667.07,333.24 L667.41,332.53 L667.75,333.32 L668.09,332.68 L668.42,333.32 L668.76,332.65 L669.10,333.30 L669.44,332.34 L669.78,333.34 L670.12,332.57 L670.46,333.39 L670.80,332.70 L671.13,333.39 L671.47,332.23 L671.81,333.25 L672.15,332.60 L672.49,333.27 L672.83,332.65 L673.17,333.40 L673.51,332.65 L673.85,333.41 L674.18,332.66 L674.52,333.26 L674.86,332.36 L675.20,333.31 L675.54,332.65 L675.88,333.41 L676.22,332.64 L676.56,333.43 L676.90,332.68 L677.23,333.36 L677.57,332.56 L677.91,333.31 L678.25,332.68 L678.59,333.39 L678.93,332.52 L679.27,333.25 L679.61,332.50 L679.94,333.29 L680.28,332.71 L680.62,333.38 L680.96,332.50 L681.30,333.00 L681.65,333.01 L682.00,330.06 L682.35,332.18 L682.70,330.00 L683.05,331.42 L683.10,331.72 L683.25,317.50 L683.45,331.72 L683.40,328.32 L683.75,329.40 L684.12,330.18 L684.49,323.63 L684.86,327.16 L685.23,320.68 L685.60,322.50 L685.45,322.80 L685.60,301.25 L685.80,322.80 L685.92,322.16 L686.25,315.87 L686.58,317.71 L686.90,313.75 L687.25,310.35 L687.60,309.96 L687.95,306.79 L688.30,305.00 L688.90,300.00 L688.90,213.50 L689.70,212.00 L689.70,125.00 L689.70,105.60 L690.40,107.00 L690.60,88.00 L690.75,107.00 L691.30,112.00 L691.70,126.00 L692.20,137.00 L693.60,200.00 L694.30,212.60 L695.40,220.00 L695.60,230.00 L696.10,221.00 L696.80,233.00 L697.30,222.00 L697.90,234.00 L698.30,225.00 L698.60,236.00 L699.10,223.00 L699.80,213.00 L700.10,200.00 L701.40,184.00 L702.40,200.00 L703.40,212.60 L703.73,216.16 L704.07,218.96 L704.40,222.60 L704.65,226.89 L704.90,230.00 L705.20,233.69 L705.50,240.00 L705.86,243.98 L706.22,242.51 L706.58,249.62 L706.94,247.63 L707.30,252.00 L707.64,256.35 L707.97,252.31 L708.31,262.21 L708.65,257.18 L708.99,266.47 L709.33,261.74 L709.66,271.07 L710.00,269.50 L710.33,266.93 L710.67,275.68 L711.00,267.66 L711.33,279.23 L711.67,270.72 L712.00,279.64 L712.33,269.92 L712.67,283.72 L713.00,274.44 L713.33,284.41 L713.67,269.64 L714.00,282.50 L714.33,286.60 L714.67,280.12 L715.00,287.14 L715.33,281.40 L715.67,287.06 L716.00,281.06 L716.33,288.54 L716.67,282.78 L717.00,289.31 L717.33,283.73 L717.67,291.05 L718.00,283.22 L717.85,283.52 L718.00,281.00 L718.20,283.52 L718.33,292.56 L718.67,286.01 L719.00,292.43 L719.33,286.70 L719.67,294.05 L720.00,291.00 L720.34,288.64 L720.69,293.52 L721.03,288.17 L721.38,294.67 L721.72,288.58 L722.07,295.15 L722.41,289.00 L722.35,289.30 L722.50,285.00 L722.70,289.30 L722.76,295.21 L723.10,290.63 L723.45,294.74 L723.79,291.05 L724.14,295.66 L724.48,290.65 L724.83,296.30 L725.17,291.68 L725.52,296.91 L725.86,292.20 L726.21,296.64 L726.55,292.08 L726.90,296.80 L727.24,292.53 L727.59,297.97 L727.93,293.79 L728.28,297.60 L728.62,292.88 L728.97,298.97 L729.31,294.28 L729.66,299.62 L730.00,297.00 L730.34,294.39 L730.69,298.87 L731.03,295.71 L731.38,299.74 L731.72,295.42 L732.07,299.88 L732.41,295.20 L732.76,301.03 L733.10,296.58 L733.45,300.96 L733.79,296.20 L734.14,301.44 L734.48,294.35 L734.83,300.97 L735.17,297.68 L735.52,302.07 L735.86,297.47 L736.21,302.27 L736.55,297.79 L736.90,302.92 L737.24,297.84 L737.59,303.34 L737.93,298.72 L738.28,303.13 L738.35,303.43 L738.50,293.00 L738.70,303.43 L738.62,299.14 L738.97,303.65 L739.31,299.16 L739.66,304.10 L740.00,302.00 L740.33,300.44 L740.67,303.98 L741.00,299.71 L741.33,304.65 L741.67,300.26 L742.00,304.28 L742.33,300.00 L742.35,300.30 L742.50,295.00 L742.70,300.30 L742.67,304.25 L743.00,300.45 L743.33,305.25 L743.67,300.82 L744.00,303.30 L744.36,305.56 L744.71,300.26 L745.07,303.93 L745.43,299.78 L745.79,304.19 L746.14,299.52 L746.50,301.50 L746.83,303.43 L747.17,298.18 L747.50,299.50" stroke="#000080" stroke-width="1" fill="none" stroke-linejoin="round"/>
<path d="M691.2,112L691.1,205" stroke="#000080" stroke-opacity="0.55" stroke-width="1" fill="none"/>
<rect x="359.8" y="222.2" width="65.6" height="17.1" fill="#fff" stroke="#222" stroke-width="1"/>
<text x="362.6" y="233.6" textLength="58.6" lengthAdjust="spacingAndGlyphs">Température</text>
<path d="M359.8,230.9L346,225.6" stroke="#111" stroke-width="1" fill="none"/>
<path d="M340.1,222.5L348.8,222.5L345.2,229.8Z" fill="#000"/>
<rect x="496" y="301.25" width="43.5" height="16.25" fill="#fff" stroke="#222" stroke-width="1"/>
<text x="498.8" y="312.8" textLength="36.2" lengthAdjust="spacingAndGlyphs">Turbilité</text>
<path d="M539.5,309.75L562,304" stroke="#111" stroke-width="1" fill="none"/>
<path d="M569,302.25L560,300.25L561.9,307.75Z" fill="#000"/>
</svg>
</body></html>
